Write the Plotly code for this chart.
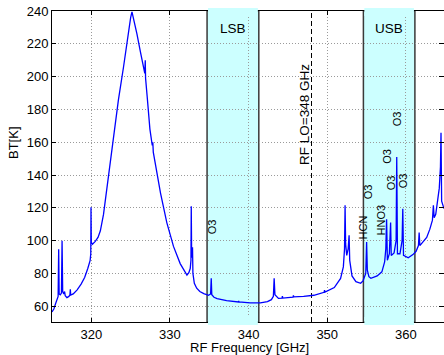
import plotly.graph_objects as go

# ---------------- data ----------------
freq_ghz = [
    315.00, 315.25, 315.45, 315.65, 315.78, 315.85, 315.91, 316.05, 316.20, 316.28,
    316.36, 316.50, 316.60, 316.68, 316.90, 317.15, 317.28, 317.33, 317.38, 317.70,
    318.20, 318.70, 319.15, 319.55, 319.85, 319.93, 319.96, 320.00, 320.15, 320.50,
    320.85, 321.15, 321.55, 321.95, 322.40, 322.85, 323.45, 324.10, 324.70, 325.00,
    325.17, 325.35, 325.80, 326.25, 326.60, 326.80, 326.86, 326.90, 327.10, 327.45,
    327.75, 327.82, 327.88, 328.35, 328.80, 329.60, 330.45, 331.30, 331.95, 332.16,
    332.40, 332.58, 332.67, 332.71, 332.76, 332.84, 332.87, 332.92, 333.10, 333.40,
    333.80, 334.30, 334.90, 335.17, 335.25, 335.32, 335.60, 336.00, 337.20, 338.70,
    338.74, 338.78, 340.20, 341.50, 342.40, 342.90, 343.15, 343.25, 343.35, 343.80,
    344.25, 344.30, 344.35, 345.65, 345.70, 345.75, 347.00, 348.30, 349.60, 349.66,
    349.72, 350.90, 351.70, 352.05, 352.20, 352.27, 352.34, 352.48, 352.66, 352.78,
    352.86, 353.15, 353.65, 354.25, 354.55, 354.90, 355.01, 355.10, 355.30, 355.55,
    356.35, 356.95, 357.30, 357.45, 357.55, 357.65, 357.90, 357.99, 358.06, 358.14,
    358.50, 358.76, 358.84, 358.93, 359.25, 359.52, 359.61, 359.70, 360.00, 360.30,
    360.90, 361.30, 361.60, 361.69, 361.78, 362.20, 362.65, 363.05, 363.38, 363.50,
    363.60, 363.80, 364.05, 364.25, 364.40, 364.47, 364.55, 364.85,
]
bt_k = [
    56.5, 58.5, 61.5, 64.0, 66.0, 94.7, 67.5, 67.0, 68.0, 100.0,
    69.0, 67.5, 69.0, 66.5, 65.3, 66.0, 67.0, 70.4, 66.8, 67.5,
    70.0, 73.5, 77.5, 83.0, 88.0, 92.0, 120.3, 99.0, 97.8, 99.5,
    102.0, 106.0, 116.0, 131.0, 148.0, 165.0, 186.0, 206.0, 227.0, 236.0,
    239.5, 236.0, 226.0, 215.0, 206.0, 202.0, 210.0, 199.0, 188.0, 168.0,
    158.0, 160.0, 154.0, 141.0, 129.0, 111.0, 96.5, 86.0, 80.5, 79.0,
    80.5, 83.0, 88.0, 121.0, 90.0, 90.0, 96.0, 80.0, 74.0, 71.0,
    69.0, 67.7, 66.7, 67.5, 77.0, 67.0, 65.5, 64.7, 63.4, 62.6,
    63.3, 62.6, 62.1, 62.0, 62.8, 64.0, 66.0, 77.0, 67.0, 64.8,
    65.0, 66.2, 65.0, 65.6, 66.6, 65.7, 66.0, 66.7, 68.5, 69.8,
    68.6, 71.4, 77.0, 84.0, 95.0, 121.5, 98.0, 91.0, 95.0, 103.3,
    88.0, 78.5, 75.0, 74.0, 75.5, 80.0, 99.2, 82.0, 78.0, 77.0,
    78.5, 81.0, 87.0, 95.0, 113.0, 88.0, 92.0, 99.0, 111.0, 91.0,
    92.5, 100.0, 151.0, 92.0, 92.0, 100.0, 119.5, 91.0, 90.0, 89.5,
    91.5, 93.5, 97.0, 105.0, 97.0, 99.5, 102.0, 107.0, 112.5, 121.5,
    114.0, 116.0, 124.6, 132.0, 145.0, 165.8, 124.0, 119.5,
]

x_ticks = [320, 330, 340, 350, 360]
y_ticks = [60, 80, 100, 120, 140, 160, 180, 200, 220, 240]

band_names = ["LSB", "USB"]
band_start = [334.72, 354.60]
band_end = [341.30, 361.15]
lo_freq = 348.0

species_names = ["O3", "HCN", "O3", "HNO3", "O3", "O3", "O3", "O3"]
species_x = [335.34, 354.50, 355.20, 356.85, 357.67, 358.88, 358.12, 359.64]
species_y = [108.7, 107.8, 129.5, 112.4, 151.4, 174.0, 135.0, 136.2]

x_title = "RF Frequency [GHz]"
y_title = "BT[K]"
lo_text = "RF LO=348 GHz"

# ---------------- styling ----------------
FONT = "Liberation Sans, Arial, Helvetica, sans-serif"
W, H = 444, 355
ML, MR, MT, MB = 52, 0, 11, 33
PW, PH = W - ML - MR, H - MT - MB
X_RANGE = [315.0, 364.85]
Y_RANGE = [50.4, 240.0]


def px_x(x):
    return (x - ML) / PW


def px_y(y):
    return 1 - (y - MT) / PH


fig = go.Figure()
fig.add_trace(go.Scatter(
    x=freq_ghz, y=bt_k, mode="lines",
    line=dict(color="#0000ff", width=1.3),
    showlegend=False, hoverinfo="skip",
))
# empty trace so the right-hand tick axis is drawn
fig.add_trace(go.Scatter(x=[None], y=[None], yaxis="y2", showlegend=False, hoverinfo="skip"))

shapes = []
for x0, x1 in zip(band_start, band_end):
    shapes.append(dict(type="rect", xref="x", yref="paper", x0=x0, x1=x1, y0=0, y1=1,
                       fillcolor="#ccffff", line=dict(color="#3a3a3a", width=1.5),
                       layer="between"))
    # hide the spines/ticks crossing the bands (as in the reference)
    for ya, yb in [(0.984, 1.01), (-0.01, 0.016)]:
        shapes.append(dict(type="rect", xref="x", yref="paper", x0=x0 + 0.12, x1=x1 - 0.12,
                           y0=ya, y1=yb, fillcolor="#ccffff", line=dict(width=0),
                           layer="above"))
shapes.append(dict(type="line", xref="x", yref="paper", x0=lo_freq, x1=lo_freq, y0=0, y1=1,
                   line=dict(color="black", width=1, dash="5px,3px"), layer="between"))

annotations = []
for name, x0, x1 in zip(band_names, band_start, band_end):
    annotations.append(dict(text=name, x=(x0 + x1) / 2, y=px_y(28), xref="x", yref="paper",
                            showarrow=False, xanchor="center", yanchor="middle",
                            font=dict(family=FONT, size=13.5, color="black")))
annotations.append(dict(text=lo_text, x=px_x(304), y=px_y(115), xref="paper", yref="paper",
                        showarrow=False, textangle=-90, xanchor="center", yanchor="middle",
                        font=dict(family=FONT, size=13.5, color="black")))
for name, sx, sy in zip(species_names, species_x, species_y):
    annotations.append(dict(text=name, x=sx, y=sy, xref="x", yref="y", showarrow=False,
                            textangle=-90, xanchor="center", yanchor="middle",
                            font=dict(family=FONT, size=11, color="black")))
annotations.append(dict(text=x_title, x=px_x(249), y=px_y(347.3), xref="paper", yref="paper",
                        showarrow=False, xanchor="center", yanchor="middle",
                        font=dict(family=FONT, size=13, color="black")))
annotations.append(dict(text=y_title, x=px_x(13), y=px_y(143), xref="paper", yref="paper",
                        showarrow=False, textangle=-90, xanchor="center", yanchor="middle",
                        font=dict(family=FONT, size=13, color="black")))

axis_common = dict(
    ticks="inside", ticklen=4, tickcolor="black", tickwidth=1,
    showline=True, linecolor="black", linewidth=1,
    showgrid=True, gridcolor="#9a9a9a", griddash="1px,2px", gridwidth=1,
    zeroline=False, tickfont=dict(family=FONT, size=13, color="black"),
)

fig.update_layout(
    width=W, height=H,
    margin=dict(l=ML, r=MR, t=MT, b=MB, pad=0),
    paper_bgcolor="white", plot_bgcolor="white",
    xaxis=dict(range=X_RANGE, tickvals=x_ticks, mirror="ticks", **axis_common),
    yaxis=dict(range=Y_RANGE, tickvals=y_ticks, mirror=False, **axis_common),
    yaxis2=dict(range=Y_RANGE, tickvals=y_ticks, overlaying="y", side="right",
                ticks="inside", ticklen=5, tickcolor="black", showticklabels=False,
                showgrid=False, showline=False, zeroline=False),
    shapes=shapes, annotations=annotations,
    showlegend=False,
)

fig.write_html("out.html")
